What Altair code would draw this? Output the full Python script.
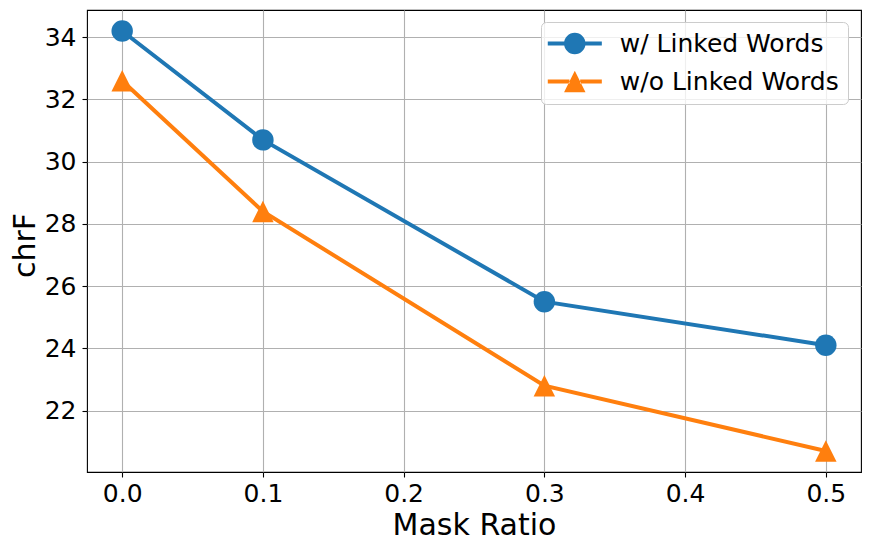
import altair as alt
import pandas as pd

mask_ratio = [0.0, 0.1, 0.3, 0.5]
with_linked = [34.2, 30.7, 25.5, 24.1]
without_linked = [32.6, 28.4, 22.8, 20.7]
series = ["w/ Linked Words", "w/o Linked Words"]
colors = ["#1f77b4", "#ff7f0e"]
x_ticks = [0.0, 0.1, 0.2, 0.3, 0.4, 0.5]
y_ticks = [22, 24, 26, 28, 30, 32, 34]

rows = []
for s, vals in zip(series, [with_linked, without_linked]):
    for m, v in zip(mask_ratio, vals):
        rows.append({"Mask Ratio": m, "chrF": v, "series": s})
df = pd.DataFrame(rows)

# marker shapes (unit box) and legend shapes (line + marker)
CIRCLE = "M1,0A1,1 0 1,1 -1,0A1,1 0 1,1 1,0Z"
TRI = "M0,-1L-1,1L1,1Z"
LEG_CIRCLE = ("M-2.52,-0.187H-0.98V0.187H-2.52Z"
              "M0.98,-0.187H2.52V0.187H0.98Z" + CIRCLE)
LEG_TRI = ("M-2.52,-0.187H-0.5V0.187H-2.52Z"
           "M0.5,-0.187H2.52V0.187H0.5Z" + TRI)

FONT = "DejaVu Sans"
SIZE = 460

legend = alt.Legend(
    title=None,
    orient="none",
    legendX=454,
    legendY=12,
    direction="vertical",
    padding=9,
    rowPadding=12,
    symbolSize=SIZE,
    symbolOffset=12.3,
    labelOffset=32.5,
    labelFont=FONT,
    labelFontSize=25,
    labelColor="black",
    labelLimit=400,
    strokeColor="#cccccc",
    fillColor="rgba(255,255,255,0.8)",
    cornerRadius=5,
    symbolOpacity=1,
    symbolStrokeWidth=0,
)


def color_scale():
    return alt.Scale(domain=series, range=colors)


x_enc = alt.X(
    "Mask Ratio:Q",
    scale=alt.Scale(domain=[-0.025, 0.525], nice=False, zero=False),
    axis=alt.Axis(values=x_ticks, format=".1f", title="Mask Ratio",
                  labelBaseline="alphabetic", labelPadding=24,
                  titleY=62, titleBaseline="alphabetic", titleX=387),
)
y_enc = alt.Y(
    "chrF:Q",
    scale=alt.Scale(domain=[20.025, 34.875], nice=False, zero=False),
    axis=alt.Axis(values=y_ticks, format="d", title="chrF",
                  labelPadding=6, titleX=-53, titleY=235,
                  titleBaseline="alphabetic", titleAlign="center", titleAngle=270),
)

lines = alt.Chart(df).mark_line(strokeWidth=4).encode(
    x=x_enc,
    y=y_enc,
    color=alt.Color("series:N", scale=color_scale(), legend=None),
    detail="series:N",
)

points = alt.Chart(df).mark_point(filled=True, size=SIZE, opacity=1, strokeWidth=0).encode(
    x=x_enc,
    y=y_enc,
    color=alt.Color("series:N", scale=color_scale(), legend=None),
    shape=alt.Shape("series:N", scale=alt.Scale(domain=series, range=[CIRCLE, TRI]), legend=None),
)

# legend carrier: no rows drawn, only provides the legend (line + marker symbols)
legend_layer = alt.Chart(df).transform_filter("false").mark_point(
    filled=True, size=SIZE, opacity=1, strokeWidth=0
).encode(
    x=x_enc,
    y=y_enc,
    color=alt.Color("series:N", scale=color_scale(), legend=legend),
    shape=alt.Shape("series:N", scale=alt.Scale(domain=series, range=[LEG_CIRCLE, LEG_TRI]), legend=legend),
)

chart = alt.layer(lines, points, legend_layer).resolve_scale(
    color="independent", shape="independent"
).properties(
    width=774,
    height=462,
    padding={"left": 79, "top": 2, "right": 2, "bottom": 68},
    autosize=alt.AutoSizeParams(type="none"),
    background="white",
).configure_view(
    stroke="black", strokeWidth=1.1
).configure_axis(
    domain=False,
    grid=True,
    gridColor="#b0b0b0",
    gridWidth=1.1,
    tickColor="black",
    tickSize=5,
    tickWidth=1.1,
    labelFont=FONT,
    labelFontSize=25,
    labelColor="black",
    titleFont=FONT,
    titleFontSize=30,
    titleFontWeight="normal",
    titleColor="black",
)

chart.save("out.html", embed_options={"renderer": "svg", "actions": False})
